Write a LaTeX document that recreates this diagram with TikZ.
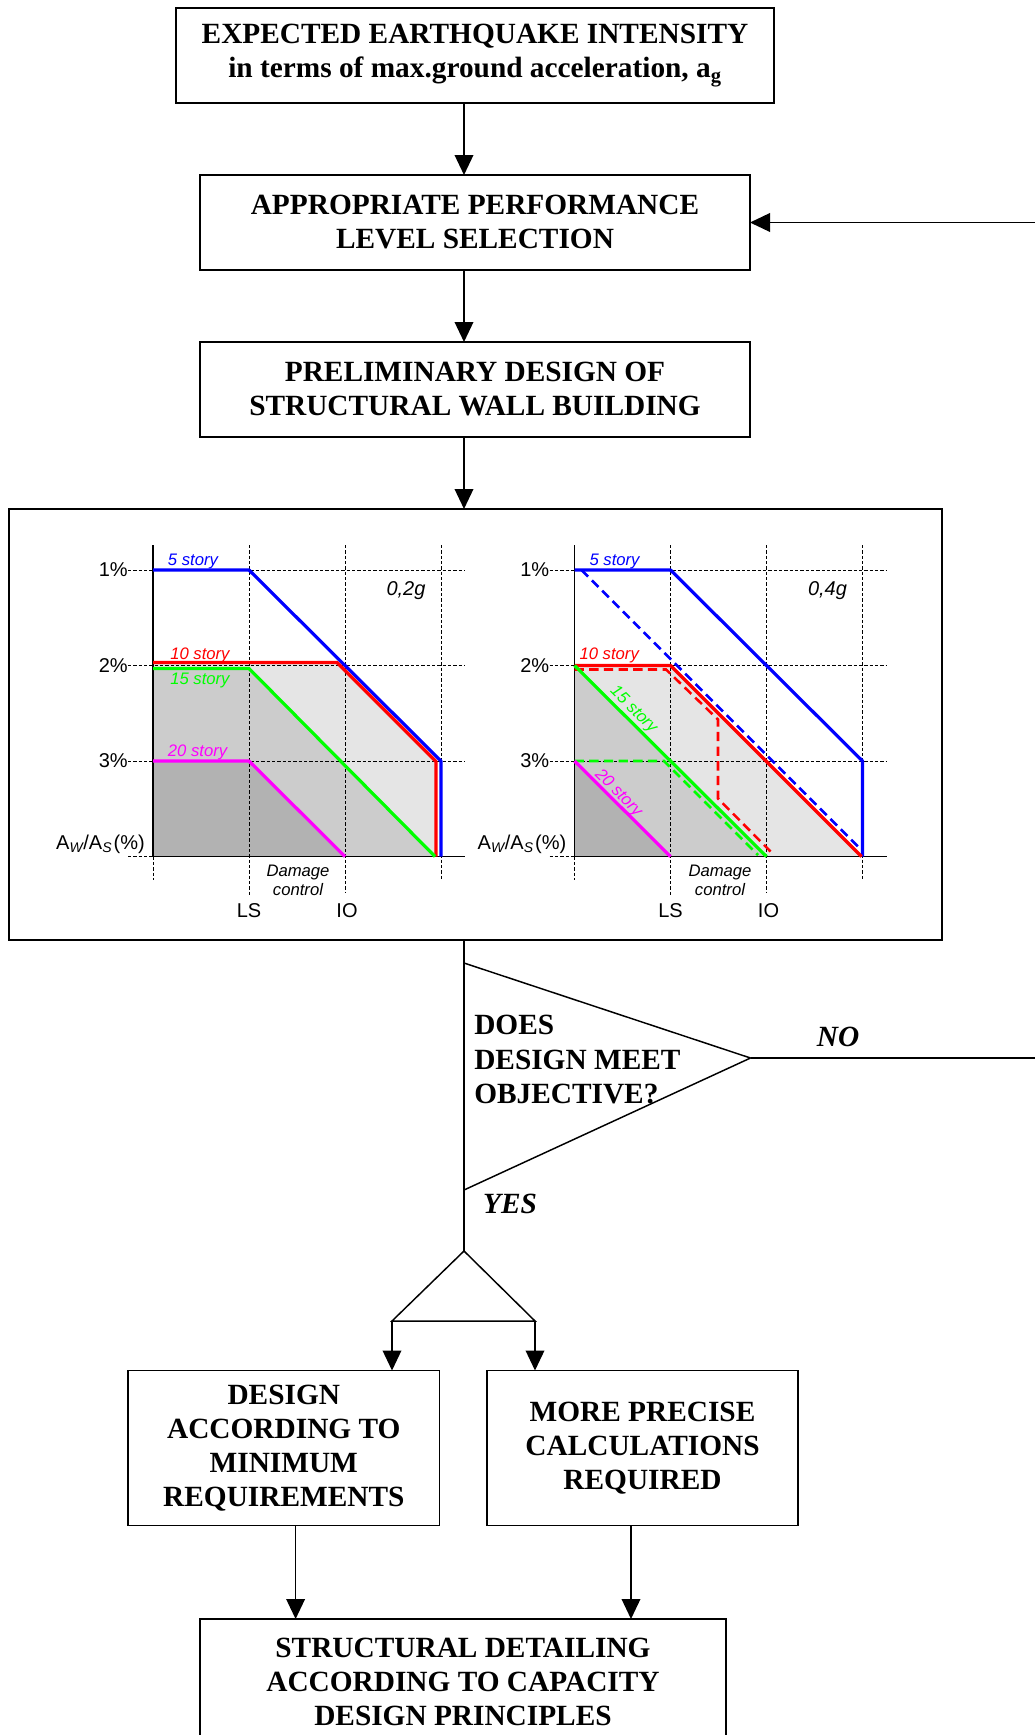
\documentclass[tikz,border=0pt]{standalone}
\usepackage{fontspec}
\setmainfont{Liberation Serif}
\newfontfamily\chartfont{Liberation Sans}
\usetikzlibrary{arrows.meta}

\definecolor{storyblue}{RGB}{0,0,255}
\definecolor{storyred}{RGB}{255,0,0}
\definecolor{storygreen}{RGB}{0,255,0}
\definecolor{storymagenta}{RGB}{255,0,255}
\definecolor{shadelight}{RGB}{229,229,229}
\definecolor{shademid}{RGB}{204,204,204}
\definecolor{shadedark}{RGB}{178,178,178}

\tikzset{
  flowbox/.style={draw, line width=1.2pt, inner sep=0pt, outer sep=0pt, align=center,
    font=\bfseries\fontsize{22}{25.5}\selectfont},
  flowline/.style={line width=1.1pt},
  flowarrow/.style={line width=1.1pt, -{Triangle[length=15pt,width=14pt]}},
  qtext/.style={inner sep=0pt, align=left, font=\bfseries\fontsize{22}{25.8}\selectfont},
  anslabel/.style={inner sep=0pt, font=\bfseries\itshape\fontsize{22}{25.5}\selectfont},
  gridline/.style={line width=0.6pt, dash pattern=on 2.5pt off 1.5pt},
  axisline/.style={line width=1.2pt},
  storyline/.style={line width=2.4pt, line join=round},
  storydash/.style={line width=1.9pt, dash pattern=on 7pt off 4pt},
  ticklabel/.style={inner sep=0pt, font=\chartfont\fontsize{15}{18}\selectfont},
  storylabel/.style={inner sep=0pt, font=\chartfont\itshape\fontsize{12.5}{15}\selectfont},
}

\begin{document}
\begin{tikzpicture}[x=0.75pt, y=-0.75pt]
\useasboundingbox (0,0) rectangle (1035,1735);
\clip (0,0) rectangle (1035,1735);

% ---------- flow boxes ----------
\node[flowbox, minimum width=448.5pt, minimum height=71.25pt] (intensity) at (475,55.5)
  {EXPECTED EARTHQUAKE INTENSITY\\in terms of max.ground acceleration, a\textsubscript{g}};
\node[flowbox, minimum width=412.5pt, minimum height=71.25pt] (perf) at (475,222.5)
  {APPROPRIATE PERFORMANCE\\LEVEL SELECTION};
\node[flowbox, minimum width=412.5pt, minimum height=71.25pt] (prelim) at (475,389.5)
  {PRELIMINARY DESIGN OF\\STRUCTURAL WALL BUILDING};
\node[flowbox, minimum width=699.75pt, minimum height=323.25pt] (charts) at (475.5,724.5) {};
\node[flowbox, minimum width=233.6pt, minimum height=116.25pt] (minreq) at (283.8,1448)
  {DESIGN\\ACCORDING TO\\MINIMUM\\REQUIREMENTS};
\node[flowbox, minimum width=233.25pt, minimum height=116.25pt] (precise) at (642.5,1448)
  {MORE PRECISE\\CALCULATIONS\\REQUIRED};
\node[flowbox, minimum width=394.5pt, minimum height=94.5pt] (detailing) at (463,1682)
  {STRUCTURAL DETAILING\\ACCORDING TO CAPACITY\\DESIGN PRINCIPLES};

% ---------- spine connectors ----------
\coordinate (spine) at (464,0);
\draw[flowarrow] (spine |- intensity.south) -- (spine |- perf.north);
\draw[flowarrow] (spine |- perf.south) -- (spine |- prelim.north);
\draw[flowarrow] (spine |- prelim.south) -- (spine |- charts.north);

% ---------- decision ----------
\coordinate (qtop) at (464,963);
\coordinate (qtip) at (750.5,1058);
\coordinate (qbot) at (464,1190);
\draw[flowline] (qtop) -- (qtip) -- (qbot);
\node[qtext, anchor=west] (question) at (474,1059.5) {DOES\\DESIGN MEET\\OBJECTIVE?};
\node[anslabel] (no) at (838,1037) {NO};
\node[anslabel] (yes) at (510,1204) {YES};

\coordinate (loopturn) at (1075,1058);
\draw[flowarrow] (qtip) -- (loopturn) |- (perf.east);

\coordinate (split) at (464,1251);
\coordinate (forkL) at (392,1321);
\coordinate (forkR) at (535,1321);
\draw[flowline] (spine |- charts.south) -- (split);
\draw[flowline] (forkL) -- (split) -- (forkR) -- cycle;
\draw[flowarrow] (forkL) -- (forkL |- minreq.north);
\draw[flowarrow] (forkR) -- (forkR |- precise.north);

\coordinate (dropL) at (295.6,0);
\coordinate (dropR) at (631,0);
\draw[flowarrow] (dropL |- minreq.south) -- (dropL |- detailing.north);
\draw[flowarrow] (dropR |- precise.south) -- (dropR |- detailing.north);

% ---------- left chart: 0,2g ----------
\begin{scope}[shift={(153,0)}]
  \fill[shadelight] (0,662.5) -- (184,662.5) -- (283,761.5) -- (283,856.5) -- (0,856.5) -- cycle;
  \fill[shademid] (0,668.5) -- (96,668.5) -- (282,856.5) -- (0,856.5) -- cycle;
  \fill[shadedark] (0,761) -- (96,761) -- (192,856.5) -- (0,856.5) -- cycle;
  \draw[gridline] (-25,570) -- (312,570) (-25,665.5) -- (312,665.5) (-25,761) -- (312,761)
    (-25,856.5) -- (0,856.5) (96,545) -- (96,897) (192,545) -- (192,893)
    (288,545) -- (288,880) (0,856.5) -- (0,880);
  \draw[axisline] (0,545) -- (0,856.5) -- (312,856.5);
  \draw[storyline, storyblue] (0,570) -- (96,570) -- (288,761) -- (288,856.5);
  \draw[storyline, storyred] (0,662.5) -- (184,662.5) -- (283,761.5) -- (283,856.5);
  \draw[storyline, storygreen] (0,668.5) -- (96,668.5) -- (282,856.5);
  \draw[storyline, storymagenta] (0,761) -- (96,761) -- (192,856.5);
  \node[ticklabel, anchor=east] (la1) at (-25,570) {1\%};
  \node[ticklabel, anchor=east] (la2) at (-25,665.5) {2\%};
  \node[ticklabel, anchor=east] (la3) at (-25,761) {3\%};
  \node[ticklabel, anchor=base east] (laxis) at (-8,849.5)
    {A\textsubscript{\itshape W}/A\textsubscript{\itshape S}\kern1pt(\%)};
  \node[ticklabel] (lls) at (96,911) {LS};
  \node[ticklabel] (lio) at (194,911) {IO};
  \node[storylabel, align=center] (ldc) at (145,880.5) {Damage\\[-1pt]control};
  \node[ticklabel, font=\chartfont\itshape\fontsize{15}{18}\selectfont] (lg) at (253,591) {0,2g};
  \node[storylabel, text=storyblue, anchor=base west] (l5) at (14.7,565.7) {5 story};
  \node[storylabel, text=storyred, anchor=base west] (l10) at (17,659) {10 story};
  \node[storylabel, text=storygreen, anchor=base west] (l15) at (17,684) {15 story};
  \node[storylabel, text=storymagenta, anchor=base west] (l20) at (14.7,756) {20 story};
\end{scope}

% ---------- right chart: 0,4g ----------
\begin{scope}[shift={(574.5,0)}]
  \fill[shadelight] (0,665.5) -- (96,665.5) -- (287,856.5) -- (0,856.5) -- cycle;
  \fill[shademid] (0,665.5) -- (192,856.5) -- (0,856.5) -- cycle;
  \fill[shadedark] (0,761) -- (96,856.5) -- (0,856.5) -- cycle;
  \draw[gridline] (-25,570) -- (312,570) (-25,665.5) -- (312,665.5) (-25,761) -- (312,761)
    (-25,856.5) -- (0,856.5) (96,545) -- (96,897) (192,545) -- (192,893)
    (288,545) -- (288,880) (0,856.5) -- (0,880);
  \draw[axisline] (0,545) -- (0,856.5) -- (312,856.5);
  \draw[storydash, storyblue] (7,570) -- (285.5,848.5);
  \draw[storydash, storyred] (0,669.5) -- (91.5,669.5) -- (143.5,719.5) -- (143.5,798.5) -- (199.5,855);
  \draw[storydash, storygreen] (0,761) -- (89.5,761) -- (183.5,855);
  \draw[storyline, storyblue] (0,570) -- (96,570) -- (288,761) -- (288,856.5);
  \draw[storyline, storyred] (0,665.5) -- (96,665.5) -- (287,856.5);
  \draw[storyline, storygreen] (0,665.5) -- (192,856.5);
  \draw[storyline, storymagenta] (0,761) -- (96,856.5);
  \node[ticklabel, anchor=east] (ra1) at (-25,570) {1\%};
  \node[ticklabel, anchor=east] (ra2) at (-25,665.5) {2\%};
  \node[ticklabel, anchor=east] (ra3) at (-25,761) {3\%};
  \node[ticklabel, anchor=base east] (raxis) at (-8,849.5)
    {A\textsubscript{\itshape W}/A\textsubscript{\itshape S}\kern1pt(\%)};
  \node[ticklabel] (rls) at (96,911) {LS};
  \node[ticklabel] (rio) at (194,911) {IO};
  \node[storylabel, align=center] (rdc) at (145.5,880.5) {Damage\\[-1pt]control};
  \node[ticklabel, font=\chartfont\itshape\fontsize{15}{18}\selectfont] (rg) at (253,591) {0,4g};
  \node[storylabel, text=storyblue, anchor=base west] (r5) at (14.8,565.7) {5 story};
  \node[storylabel, text=storyred, anchor=base west] (r10) at (4.8,659.3) {10 story};
  \node[storylabel, text=storygreen, rotate=-45] (r15) at (58.8,710) {15 story};
  \node[storylabel, text=storymagenta, rotate=-45] (r20) at (43.8,793.3) {20 story};
\end{scope}
\end{tikzpicture}
\end{document}
